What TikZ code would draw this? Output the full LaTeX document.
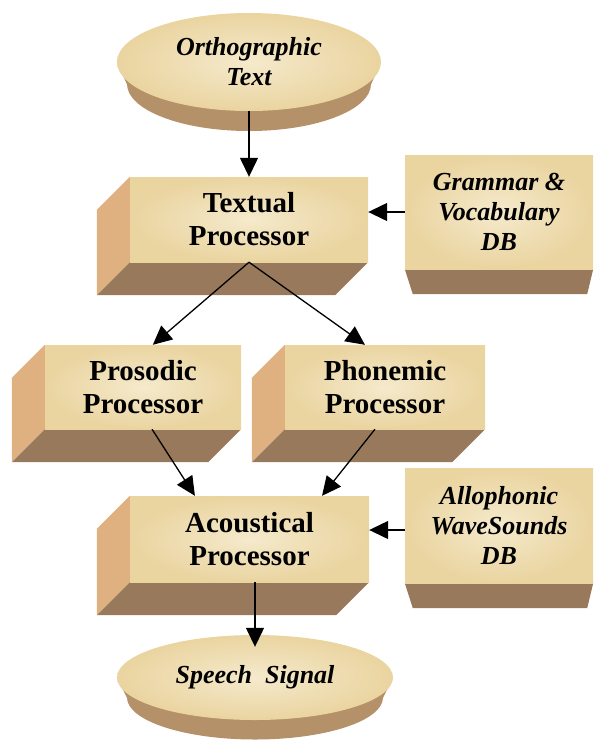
\documentclass[tikz,border=0pt]{standalone}
\usepackage{fontspec}
\setmainfont{Liberation Serif}
\usetikzlibrary{shapes.geometric,arrows.meta,backgrounds,calc}
\definecolor{papyL}{RGB}{245,234,204}
\definecolor{papyD}{RGB}{234,212,160}
\definecolor{leftface}{RGB}{224,177,128}
\definecolor{bottomface}{RGB}{152,121,92}
\definecolor{discside}{RGB}{180,145,104}
\begin{document}
\begin{tikzpicture}[x=1pt,y=-1pt,
  papyrus/.style={inner sep=0pt, align=center, inner color=papyL, outer color=papyD, text=black},
  procbox/.style={papyrus, rectangle, font=\fontsize{29}{33}\selectfont\bfseries},
  dbbox/.style={papyrus, rectangle, font=\fontsize{26}{30}\selectfont\bfseries\itshape},
  disc/.style={papyrus, ellipse, font=\fontsize{26}{30}\selectfont\bfseries\itshape},
  arr/.style={-{Triangle[length=19pt,width=18pt]}, line width=1.3pt}]
\useasboundingbox (0,0) rectangle (594,740);
\node[disc, minimum width=264pt, minimum height=98pt] (orth) at (249,62) {Orthographic\\Text};
\node[procbox, minimum width=238pt, minimum height=85pt] (textual) at (249,219.5) {Textual\\Processor};
\node[dbbox, minimum width=188pt, minimum height=114pt] (grammar) at (499,212) {Grammar \&\\Vocabulary\\DB};
\node[procbox, minimum width=196pt, minimum height=84pt] (prosodic) at (143,387) {Prosodic\\Processor};
\node[procbox, minimum width=200pt, minimum height=84pt] (phonemic) at (385,387) {Phonemic\\Processor};
\node[procbox, minimum width=239pt, minimum height=86pt] (acoustical) at (249.5,539) {Acoustical\\Processor};
\node[dbbox, minimum width=188pt, minimum height=115pt] (allophonic) at (499,525.5) {Allophonic\\WaveSounds\\DB};
\node[disc, minimum width=276pt, minimum height=85pt] (speech) at (255,677.5) {Speech\ \ Signal};
\begin{scope}[on background layer]
  \foreach \n in {textual,prosodic,phonemic,acoustical}{
    \fill[leftface] (\n.north west) -- ++(-33,33) -- ($(\n.south west)+(-33,33)$) -- (\n.south west) -- cycle;
    \fill[bottomface] (\n.south west) -- (\n.south east) -- ++(-33,33) -- ($(\n.south west)+(-33,33)$) -- cycle;
  }
  \foreach \n in {grammar,allophonic}{
    \fill[bottomface] (\n.south west) -- (\n.south east) -- ++(-6,25) -- ($(\n.south west)+(8,25)$) -- cycle;
  }
  \foreach \n/\d/\rx/\ry in {orth/22/122/47, speech/20/128/42}{
    \fill[discside] ($(\n.center)+(0,\d)$) ellipse [x radius=\rx pt, y radius=\ry pt];
    \fill[discside] (\n.west) -- ($(\n.west)+(10,\d)$) -- ($(\n.east)+(-10,\d)$) -- (\n.east) -- cycle;
  }
\end{scope}
\coordinate (ain) at ([yshift=-4.5pt]allophonic.west);
\draw[arr] (orth.south) -- (orth.south |- textual.north);
\draw[arr] (grammar.west) -- (grammar.west -| textual.east);
\draw[arr] (textual.south) -- ($(prosodic.north west)!0.55!(prosodic.north east)$);
\draw[arr] (textual.south) -- ($(phonemic.north west)!0.4!(phonemic.north east)$);
\draw[arr] ($(prosodic.south west)!0.546!(prosodic.south east)$) -- ($(acoustical.north west)!0.272!(acoustical.north east)$);
\draw[arr] ($(phonemic.south west)!0.45!(phonemic.south east)$) -- ($(acoustical.north west)!0.803!(acoustical.north east)$);
\draw[arr] (ain) -- (ain -| acoustical.east);
\draw[arr] (acoustical.south -| speech.north) -- ([yshift=-12pt]speech.north);
\end{tikzpicture}
\end{document}
